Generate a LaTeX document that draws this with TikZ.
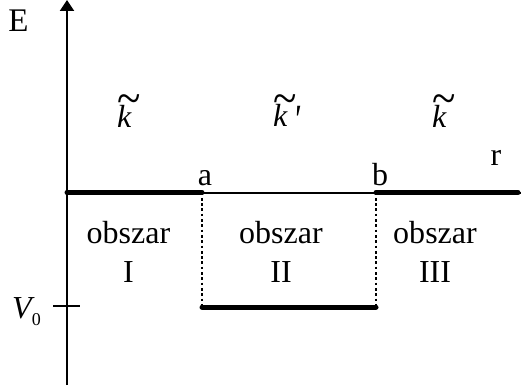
\documentclass[tikz,border=0pt]{standalone}
\usepackage{fontspec}
\setmainfont{Liberation Serif}
\usetikzlibrary{arrows.meta}
\newcommand{\tlk}[1]{\leavevmode\rlap{\hspace{0.5pt}\raisebox{13pt}{\scalebox{1.35}[1.5]{\textasciitilde}}}#1}
\begin{document}
\begin{tikzpicture}[x=1pt,y=-1pt,
  axis/.style={line width=2pt},
  heavy/.style={line width=5pt, line cap=round},
  dotline/.style={line width=2pt, dash pattern=on 2.7pt off 2.6pt},
  lbl/.style={font=\fontsize{32}{36}\selectfont, inner sep=0pt},
  reg/.style={font=\fontsize{32}{39}\selectfont, align=center, inner sep=0pt}]
\useasboundingbox (0,0) rectangle (521,390);
\clip (0,0) rectangle (521,390);
\coordinate (O) at (67,192.5);
\coordinate (ybot) at (67,385);
\coordinate (ytop) at (67,0);
\coordinate (xend) at (532,192.5);
\coordinate (A) at (202,192.5);
\coordinate (B) at (376,192.5);
\coordinate (Ad) at (202,307);
\coordinate (Bd) at (376,307);
\coordinate (Rend) at (518,192.5);
\coordinate (tl) at (53,306);
\coordinate (tr) at (80,306);
% axes
\draw[axis,-{Triangle[length=11pt,width=14pt]}] (ybot) -- (ytop);
\draw[axis,-{Triangle[length=11pt,width=14pt]}] (O) -- (xend);
% thick segments
\draw[heavy] (O) -- (A);
\draw[heavy] (B) -- (Rend);
\draw[heavy] (Ad) -- (Bd);
% dotted lines
\draw[dotline] (A) -- (Ad);
\draw[dotline] (B) -- (Bd);
% tick
\draw[axis] (tl) -- (tr);
% labels
\node[lbl,font=\fontsize{33}{36}\selectfont,anchor=base] (E) at (18.5,32) {E};
\node[lbl,anchor=base west] (k1) at (117,128) {\tlk{\textit{k}}};
\node[lbl,anchor=base west] (k2) at (273,127) {\tlk{\textit{k}}\hspace{6pt}\raisebox{-7pt}{\scalebox{1}[1.3]{\textit{\textquotesingle}}}};
\node[lbl,anchor=base west] (k3) at (432,128) {\tlk{\textit{k}}};
\node[lbl,anchor=base] (r) at (496,165) {r};
\node[lbl,anchor=base] (a) at (205,185) {a};
\node[lbl,anchor=base] (b) at (380,185) {b};
\node[reg] (r1) at (128.5,251.5) {obszar\\I};
\node[reg] (r2) at (281,251.5) {obszar\\II};
\node[reg] (r3) at (435,251.5) {obszar\\III};
\node[lbl,anchor=base west] (V) at (12,318) {\textit{V}\kern-3pt\raisebox{-7pt}{\fontsize{18}{18}\selectfont 0}};
\end{tikzpicture}
\end{document}
